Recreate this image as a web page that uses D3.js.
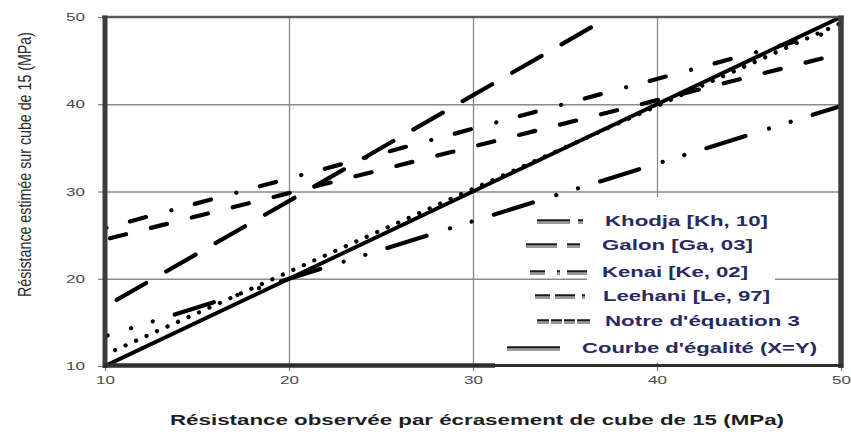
<!DOCTYPE html>
<html>
<head>
<meta charset="utf-8">
<script src="https://cdn.jsdelivr.net/npm/d3@7"></script>
<style>
  body { margin: 0; background: #fff; }
  svg { display: block; }
  text { font-family: Arial, "Liberation Sans", sans-serif; }
</style>
</head>
<body>
<svg id="chart" width="851" height="439"></svg>
<script>
// Observed crushing strength (MPa) at the two ends of each fitted line
const obsEnds = [10, 50];
const galonObsEnds = [10, 37.4];

// Estimated strength (MPa) at those ends
const khodja   = [13.4, 39.8];
const galon    = [16.8, 50];
const kenai    = [25.8, 48.6];
const leehani  = [24.5, 45.8];
const notreEq3 = [11.3, 49.3];
const egalite  = [10, 50];

const xTicks = [10, 20, 30, 40, 50];
const yTicks = [10, 20, 30, 40, 50];
const gridTicks = [20, 30, 40];

const legendLabels = [
  "Khodja [Kh, 10]",
  "Galon [Ga, 03]",
  "Kenai [Ke, 02]",
  "Leehani [Le, 97]",
  "Notre d'équation 3",
  "Courbe d'égalité (X=Y)"
];

const xTitle = "Résistance observée par écrasement de cube de 15 (MPa)";
const yTitle = "Résistance estimée sur cube de 15 (MPa)";

// ---- layout ----
const plot = { left: 105, right: 841, top: 17, bottom: 366 };
const svg = d3.select("#chart");

const x = d3.scaleLinear().domain([10, 50]).range([plot.left, plot.right]);
const y = d3.scaleLinear().domain([10, 50]).range([plot.bottom, plot.top]);

// ---- grid ----
const grid = svg.append("g");
grid.append("g")
  .attr("transform", `translate(0,${plot.bottom})`)
  .call(d3.axisBottom(x).tickValues(gridTicks).tickSize(-(plot.bottom - plot.top)).tickFormat(""))
  .call(g => g.select(".domain").remove())
  .call(g => g.selectAll("line").attr("stroke", "#8a8a8a").attr("stroke-width", 1.3));
grid.append("g")
  .attr("transform", `translate(${plot.left},0)`)
  .call(d3.axisLeft(y).tickValues(gridTicks).tickSize(-(plot.right - plot.left)).tickFormat(""))
  .call(g => g.select(".domain").remove())
  .call(g => g.selectAll("line").attr("stroke", "#8a8a8a").attr("stroke-width", 1.3));

// ---- axes (ticks + labels) ----
const styleAxis = g => {
  g.select(".domain").remove();
  g.selectAll(".tick line").attr("stroke", "#777").attr("stroke-width", 1.2);
  g.selectAll(".tick text")
    .attr("fill", "#4a4a4a")
    .attr("font-size", 11)
    .attr("textLength", 19)
    .attr("lengthAdjust", "spacingAndGlyphs");
};
svg.append("g")
  .attr("transform", `translate(0,${plot.bottom})`)
  .call(d3.axisBottom(x).tickValues(xTicks).tickSize(5).tickPadding(5).tickSizeOuter(0).tickFormat(d3.format("d")))
  .call(styleAxis);
svg.append("g")
  .attr("transform", `translate(${plot.left},0)`)
  .call(d3.axisLeft(y).tickValues(yTicks).tickSize(7).tickPadding(13).tickSizeOuter(0).tickFormat(d3.format("d")))
  .call(styleAxis);

// ---- series ----
const series = [
  { name: legendLabels[0], xs: obsEnds,      ys: khodja,   dash: "41,24.6,0.1,22.6,0.1,23", offset: 38.3, w: 4.2 },
  { name: legendLabels[1], xs: galonObsEnds, ys: galon,    dash: "34,23",                   offset: 43.5, w: 4.2 },
  { name: legendLabels[2], xs: obsEnds,      ys: kenai,    dash: "16.7,26.2,0.1,24.3",      offset: 41.5, w: 4.2 },
  { name: legendLabels[3], xs: obsEnds,      ys: leehani,  dash: "16.6,25.6",               offset: 37.1, w: 4.2 },
  { name: legendLabels[4], xs: obsEnds,      ys: notreEq3, dash: "0.1,11.4",                offset: 0.5,  w: 4.2 },
  { name: legendLabels[5], xs: obsEnds,      ys: egalite,  dash: null,                      offset: 0,    w: 3.9 }
];

svg.append("clipPath").attr("id", "plotClip")
  .append("rect")
  .attr("x", plot.left).attr("y", plot.top)
  .attr("width", plot.right - plot.left).attr("height", plot.bottom - plot.top);

const line = d3.line().x(d => x(d[0])).y(d => y(d[1]));

svg.append("g").attr("clip-path", "url(#plotClip)")
  .selectAll("path")
  .data(series)
  .join("path")
  .attr("d", s => line(d3.zip(s.xs, s.ys)))
  .attr("fill", "none")
  .attr("stroke", "#000")
  .attr("stroke-width", s => s.w)
  .attr("stroke-linecap", "round")
  .attr("stroke-dasharray", s => s.dash)
  .attr("stroke-dashoffset", s => s.offset);

// ---- legend ----
svg.append("rect")
  .attr("x", 587).attr("y", 197).attr("width", 188).attr("height", 166)
  .attr("fill", "#fff");

const legendRows = [
  { sx: 537, sw: 46, dash: "33,8,5,100",               ty: 226, tx: 605, tl: 163 },
  { sx: 526, sw: 54, dash: "31,10,13,100",             ty: 250, tx: 602, tl: 151 },
  { sx: 530, sw: 57, dash: "15,12,3,7,20,100",         ty: 277, tx: 602, tl: 146 },
  { sx: 535, sw: 50, dash: "15,5,20,7,3,100",          ty: 301, tx: 603, tl: 167 },
  { sx: 537, sw: 53, dash: "12,2,11,2,11,2,13,100",    ty: 326, tx: 605, tl: 195 },
  { sx: 507, sw: 53, dash: null,                       ty: 353, tx: 582, tl: 235 }
];

const legend = svg.append("g");
const rows = legend.selectAll("g").data(series.map((s, i) => ({ s, r: legendRows[i] }))).join("g");
// double-stroke swatch: dark line over a lighter grey one
rows.append("line")
  .attr("x1", d => d.r.sx).attr("x2", d => d.r.sx + d.r.sw)
  .attr("y1", d => d.r.ty - 3.2).attr("y2", d => d.r.ty - 3.2)
  .attr("stroke", "#9a9a9a").attr("stroke-width", 2.2)
  .attr("stroke-dasharray", d => d.r.dash);
rows.append("line")
  .attr("x1", d => d.r.sx).attr("x2", d => d.r.sx + d.r.sw)
  .attr("y1", d => d.r.ty - 5.6).attr("y2", d => d.r.ty - 5.6)
  .attr("stroke", "#1a1a1a").attr("stroke-width", 2.2)
  .attr("stroke-dasharray", d => d.r.dash);
rows.append("text")
  .attr("x", d => d.r.tx).attr("y", d => d.r.ty)
  .attr("font-size", 14).attr("font-weight", "bold")
  .attr("fill", "#272b5e")
  .attr("textLength", d => d.r.tl)
  .attr("lengthAdjust", "spacingAndGlyphs")
  .text(d => d.s.name);

// ---- frame ----
const frame = svg.append("g").attr("fill", "none");
frame.append("line").attr("x1", 102).attr("x2", 844).attr("y1", plot.top).attr("y2", plot.top)
  .attr("stroke", "#5a5a5a").attr("stroke-width", 2.5);
frame.append("line").attr("x1", plot.left).attr("x2", plot.left).attr("y1", 15.5).attr("y2", 368)
  .attr("stroke", "#3c3c3c").attr("stroke-width", 5);
frame.append("line").attr("x1", plot.right).attr("x2", plot.right).attr("y1", 15.5).attr("y2", 368)
  .attr("stroke", "#3c3c3c").attr("stroke-width", 5.5);
frame.append("line").attr("x1", 103).attr("x2", 495).attr("y1", plot.bottom - 0.5).attr("y2", plot.bottom - 0.5)
  .attr("stroke", "#2e2e2e").attr("stroke-width", 4.5);
frame.append("line").attr("x1", 495).attr("x2", 843).attr("y1", plot.bottom - 0.5).attr("y2", plot.bottom - 0.5)
  .attr("stroke", "#2e2e2e").attr("stroke-width", 3);

// ---- titles ----
svg.append("text")
  .attr("x", 477).attr("y", 425)
  .attr("text-anchor", "middle")
  .attr("font-size", 14).attr("font-weight", "bold")
  .attr("fill", "#1e1e1e")
  .attr("textLength", 614).attr("lengthAdjust", "spacingAndGlyphs")
  .text(xTitle);

// vertical title: tall, narrow glyphs
svg.append("text")
  .attr("transform", "translate(31,164.5) scale(1.25,1) rotate(-90)")
  .attr("text-anchor", "middle")
  .attr("font-size", 15)
  .attr("fill", "#2a2a2a")
  .attr("textLength", 265).attr("lengthAdjust", "spacingAndGlyphs")
  .text(yTitle);
</script>
</body>
</html>
